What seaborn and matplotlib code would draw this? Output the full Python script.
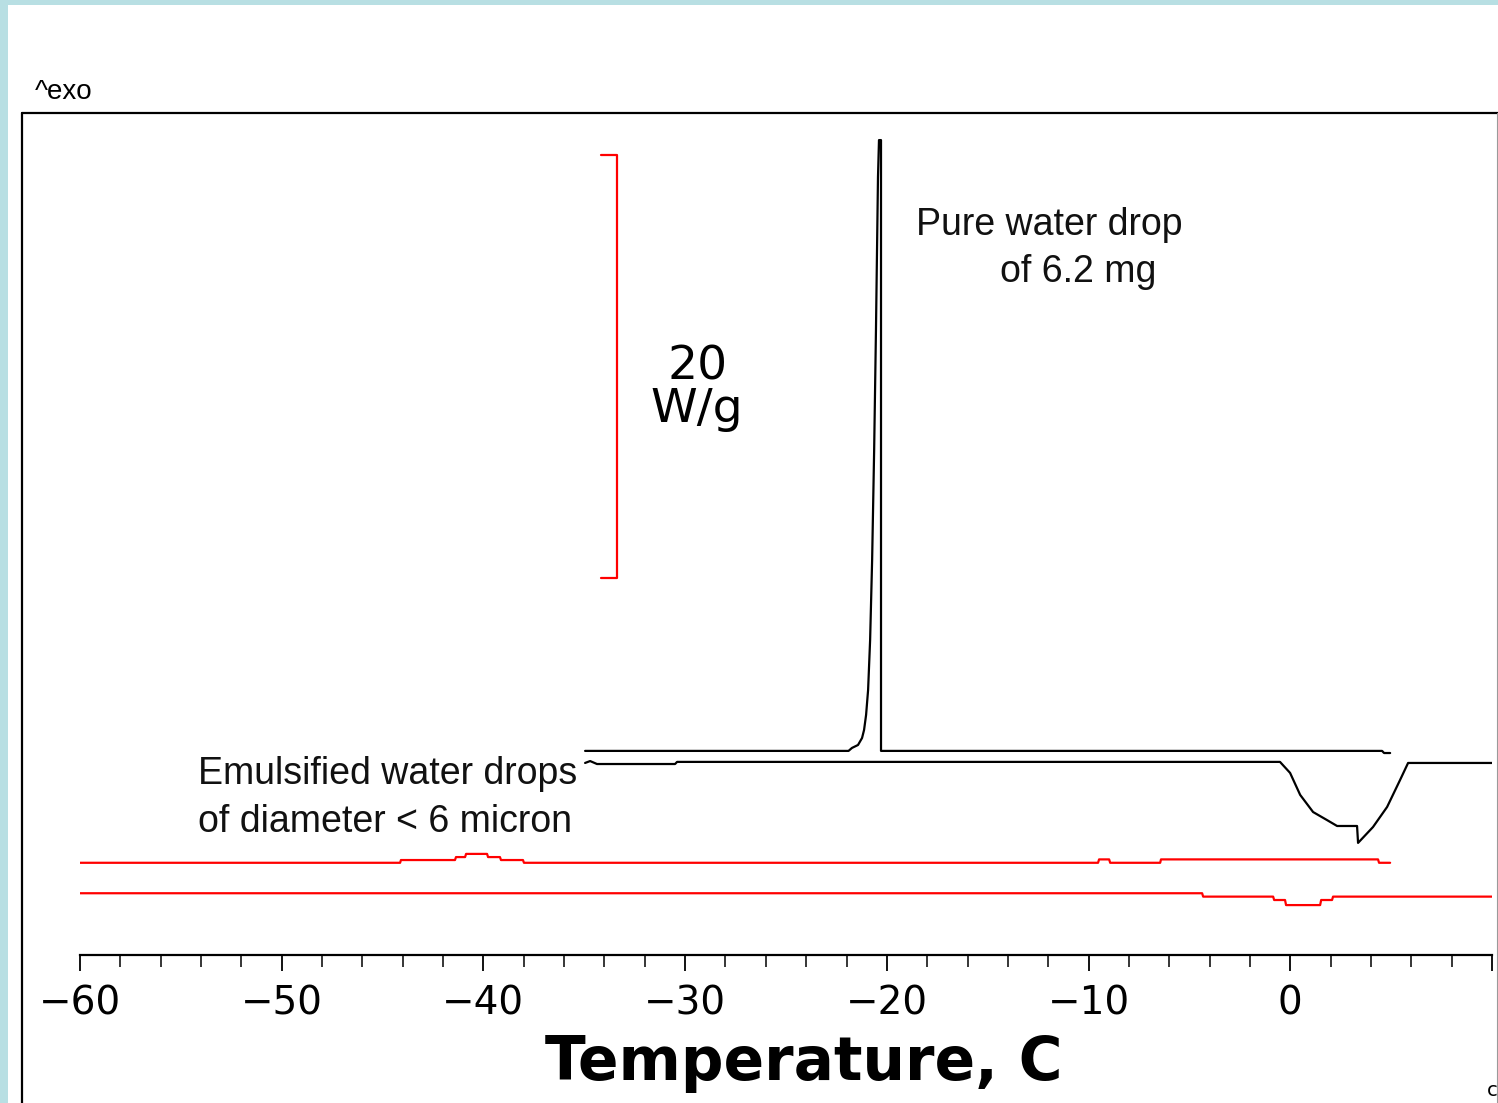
import numpy as np
import pandas as pd
import matplotlib
matplotlib.use('Agg')
import matplotlib.pyplot as plt
from matplotlib.lines import Line2D
from matplotlib.patches import Rectangle
from matplotlib.ticker import MultipleLocator, FuncFormatter
import seaborn as sns

# %% data (temperature in C, heat flow in W/g with offsets)
# pure water drop, cooling run (freezing exotherm)
water_cool_T = [-34.96, -21.90, -21.73, -21.43, -21.23, -21.13, -21.03, -20.93, -20.83, -20.73,
                -20.63, -20.54, -20.44, -20.39, -20.29, -20.29, 4.55, 4.65, 4.95]
water_cool_W = [9.65, 9.65, 9.79, 9.93, 10.26, 10.64, 11.35, 12.53, 14.89, 18.68,
                23.88, 29.55, 36.78, 38.53, 38.53, 9.65, 9.65, 9.55, 9.55]
# pure water drop, heating run (melting endotherm)
water_heat_T = [-34.96, -34.71, -34.37, -30.50, -30.40, -0.51, -0.01, 0.49, 1.13,
                1.82, 2.32, 3.31, 3.36, 4.10, 4.80, 5.44, 5.84, 10.0]
water_heat_W = [9.08, 9.17, 9.03, 9.03, 9.13, 9.13, 8.61, 7.57, 6.76,
                6.38, 6.10, 6.10, 5.30, 6.05, 7.00, 8.27, 9.08, 9.08]
# emulsified water drops, cooling run
emul_cool_T = [-60.0, -44.13, -44.09, -41.41, -41.36, -40.91, -40.86, -39.82, -39.77,
               -39.18, -39.13, -38.04, -37.99, -9.53, -9.48, -8.98, -8.93, -6.45,
               -6.41, 4.35, 4.40, 4.95]
emul_cool_W = [4.36, 4.36, 4.49, 4.49, 4.63, 4.63, 4.78, 4.78, 4.63,
               4.63, 4.49, 4.49, 4.36, 4.36, 4.52, 4.52, 4.36, 4.36,
               4.52, 4.52, 4.36, 4.36]
# emulsified water drops, heating run
emul_heat_T = [-60.0, -4.37, -4.32, -0.85, -0.80, -0.26, -0.21, 1.48, 1.53,
               2.07, 2.12, 10.0]
emul_heat_W = [2.92, 2.92, 2.76, 2.76, 2.60, 2.60, 2.36, 2.36, 2.60,
               2.60, 2.76, 2.76]

# 20 W/g scale bar
scale_T = -33.38
scale_tick_T = -34.17
scale_low = 17.83
scale_size = 20

x_ticks_major = 10
x_ticks_minor = 2
x_labelled = [-60, -50, -40, -30, -20, -10, 0]

# %% figure
sns.set_style('white')
plt.rcParams['font.family'] = ['DejaVu Sans']
plt.rcParams['axes.unicode_minus'] = True
plt.rcParams['text.color'] = 'black'
plt.rcParams['axes.labelcolor'] = 'black'

W_PX, H_PX = 1498, 1103
fig = plt.figure(figsize=(W_PX / 100, H_PX / 100), dpi=100)
fig.patch.set_facecolor('white')

# light blue page border + black frame
blue = '#b8dfe3'
fig.add_artist(Rectangle((0, 0), 8 / W_PX, 1, transform=fig.transFigure, color=blue, lw=0))
fig.add_artist(Rectangle((0, 1 - 5 / H_PX), 1, 5 / H_PX, transform=fig.transFigure, color=blue, lw=0))
top = 1 - 113 / H_PX
fig.add_artist(Line2D([22 / W_PX, 22 / W_PX], [0, top], transform=fig.transFigure, color='black', lw=1.6))
fig.add_artist(Line2D([22 / W_PX, 1], [top, top], transform=fig.transFigure, color='black', lw=1.6))
fig.add_artist(Line2D([1496.5 / W_PX] * 2, [0, top], transform=fig.transFigure, color='#9a9a9a', lw=0.8))

ax_l, ax_r = 80 / W_PX, 1492 / W_PX
ax_b = (H_PX - 955) / H_PX
ax = fig.add_axes([ax_l, ax_b, ax_r - ax_l, top - ax_b])
ax.set_facecolor('none')

for T, Wg, col in [(water_cool_T, water_cool_W, 'black'),
                   (water_heat_T, water_heat_W, 'black'),
                   (emul_cool_T, emul_cool_W, '#ff0000'),
                   (emul_heat_T, emul_heat_W, '#ff0000')]:
    df = pd.DataFrame({'T': T, 'W': Wg})
    sns.lineplot(data=df, x='T', y='W', ax=ax, color=col, lw=1.6,
                 estimator=None, sort=False, legend=False)

# scale bar
ax.plot([scale_tick_T, scale_T, scale_T, scale_tick_T],
        [scale_low + scale_size, scale_low + scale_size, scale_low, scale_low],
        color='#ff0000', lw=1.6)
ax.text(-29.4, 26.8, f'{scale_size}\nW/g', ha='center', va='center', ma='center',
        fontsize=34, linespacing=0.95, color='black')

ann = ['Liberation Sans', 'DejaVu Sans']
ax.text(-18.55, 34.5, 'Pure water drop', ha='left', va='center', fontsize=27, family=ann, color='#111111')
ax.text(-14.39, 32.3, 'of 6.2 mg', ha='left', va='center', fontsize=27, family=ann, color='#111111')
ax.text(-54.15, 8.55, 'Emulsified water drops', ha='left', va='center', fontsize=27, family=ann, color='#111111')
ax.text(-54.15, 6.3, 'of diameter < 6 micron', ha='left', va='center', fontsize=27, family=ann, color='#111111')

ax.set_xlim(-60, 10)
ax.set_ylim(0, (955 - 113) / 21.15)
ax.xaxis.set_major_locator(MultipleLocator(x_ticks_major))
ax.xaxis.set_minor_locator(MultipleLocator(x_ticks_minor))
ax.xaxis.set_major_formatter(FuncFormatter(
    lambda v, pos: f'{int(round(v))}'.replace('-', '\u2212') if int(round(v)) in x_labelled else ''))
ax.set_yticks([])
ax.set_ylabel('')
for s in ['top', 'left', 'right']:
    ax.spines[s].set_visible(False)
ax.spines['bottom'].set_linewidth(1.6)
ax.spines['bottom'].set_color('black')
ax.tick_params(axis='x', which='major', direction='out', bottom=True, length=11.5, width=1.3,
               labelsize=28, pad=10, colors='black')
ax.tick_params(axis='x', which='minor', direction='out', bottom=True, length=8.5, width=1.3)
ax.set_xlabel('Temperature, C', fontsize=43, fontweight='bold', color='black')
ax.xaxis.set_label_coords(0.5127, -0.0935)

fig.text(35 / W_PX, 1 - 92 / H_PX, '^exo', ha='left', va='center', fontsize=20, family=ann)
fig.text(1487 / W_PX, 1 - 1090 / H_PX, 'c', ha='left', va='center', fontsize=14)

plt.savefig('out.png', dpi=100)
